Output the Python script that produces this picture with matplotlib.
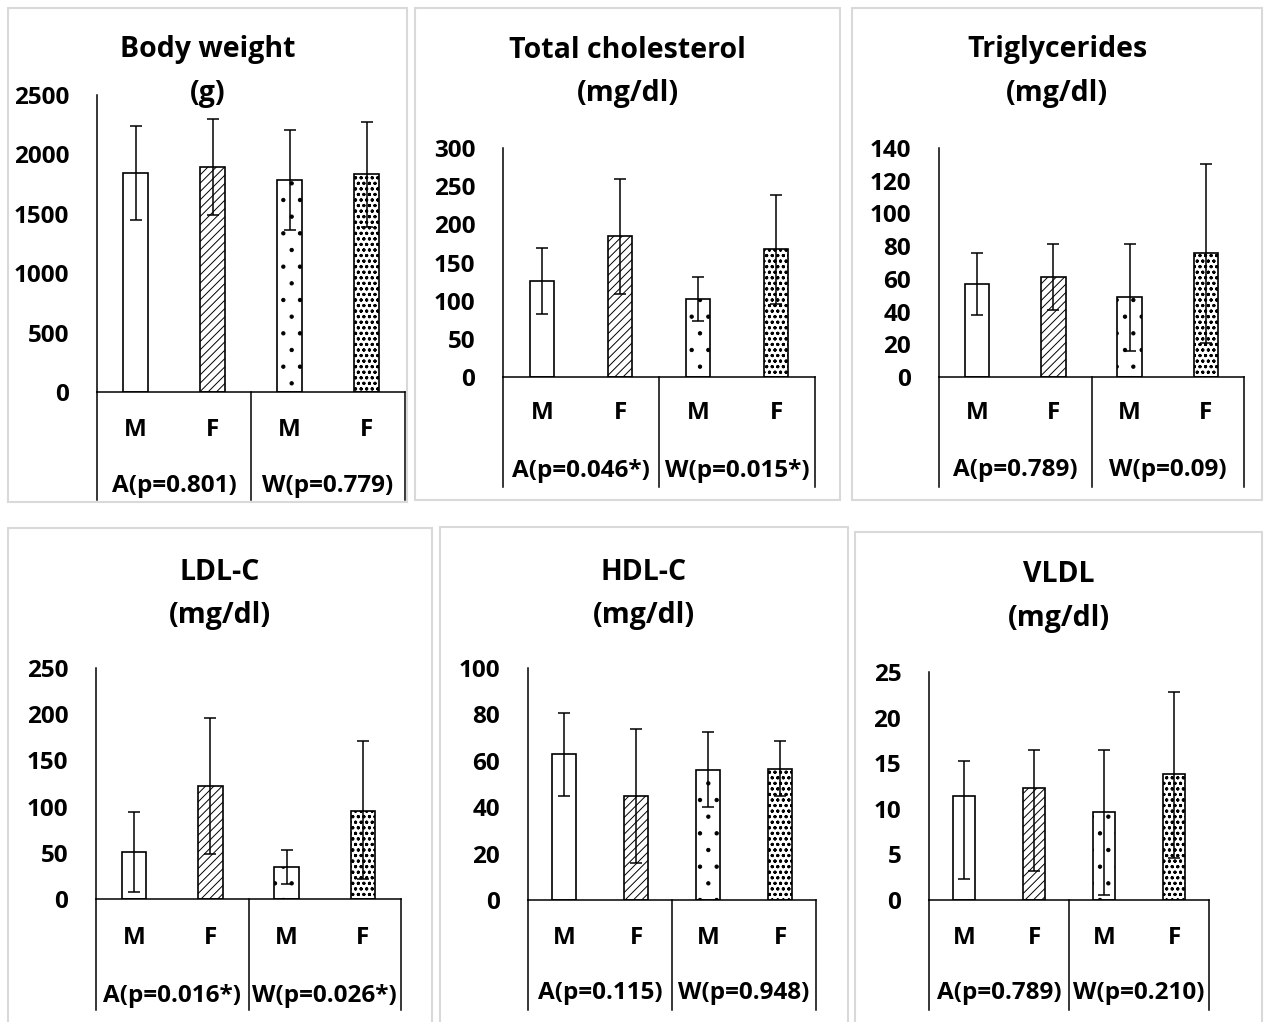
import numpy as np
import matplotlib.pyplot as plt
from matplotlib.patches import Rectangle
from matplotlib.transforms import blended_transform_factory

plt.rcParams['font.family'] = ['Open Sans', 'DejaVu Sans']
plt.rcParams['font.weight'] = 'bold'
plt.rcParams['hatch.linewidth'] = 0.7

W, H = 1266, 1022

sexes = ['M', 'F', 'M', 'F']
hatches = ['', '////', '.', '...ooo']

titles = ['Body weight', 'Total cholesterol', 'Triglycerides', 'LDL-C', 'HDL-C', 'VLDL']
units = ['(g)', '(mg/dl)', '(mg/dl)', '(mg/dl)', '(mg/dl)', '(mg/dl)']
p_a = ['A(p=0.801)', 'A(p=0.046*)', 'A(p=0.789)', 'A(p=0.016*)', 'A(p=0.115)', 'A(p=0.789)']
p_w = ['W(p=0.779)', 'W(p=0.015*)', 'W(p=0.09)', 'W(p=0.026*)', 'W(p=0.948)', 'W(p=0.210)']

# mean, upper end and lower end of the error bar (A-M, A-F, W-M, W-F)
bw_mean = [1845, 1893, 1784, 1837]
bw_hi = [2239, 2298, 2205, 2270]
bw_lo = [1449, 1489, 1363, 1390]

tc_mean = [126, 185, 102, 168]
tc_hi = [169, 260, 131, 239]
tc_lo = [83, 109, 74, 96]

tg_mean = [57, 61.3, 48.9, 75.9]
tg_hi = [75.7, 81.6, 81.6, 130.2]
tg_lo = [38, 40.9, 15.7, 21]

ldl_mean = [50.7, 122.6, 34.9, 95.3]
ldl_hi = [93.9, 195.9, 53.5, 170.8]
ldl_lo = [7.6, 49.2, 16.2, 21.2]

hdl_mean = [62.8, 44.8, 56.2, 56.6]
hdl_hi = [80.5, 73.7, 72.3, 68.4]
hdl_lo = [45, 16.1, 40.1, 45]

vldl_mean = [11.4, 12.3, 9.7, 13.8]
vldl_hi = [15.2, 16.4, 16.4, 22.8]
vldl_lo = [2.3, 3.2, 0.6, 4.65]

y_max = [2500, 300, 140, 250, 100, 25]
y_step = [500, 50, 20, 50, 20, 5]

data = [(bw_mean, bw_hi, bw_lo), (tc_mean, tc_hi, tc_lo), (tg_mean, tg_hi, tg_lo),
        (ldl_mean, ldl_hi, ldl_lo), (hdl_mean, hdl_hi, hdl_lo), (vldl_mean, vldl_hi, vldl_lo)]

# layout in pixels: panel box, plot area (left, top, right, zero line), text rows
boxes = [(8, 8, 407, 502), (415, 8, 840, 500), (852, 8, 1262, 500),
         (8, 528, 432, 1030), (440, 527, 848, 1030), (855, 532, 1262, 1030)]
areas = [(97, 95, 405, 392), (503, 148, 815, 377), (939, 148, 1244, 377),
         (96, 668, 401, 899), (528, 668, 816, 900), (929, 672, 1209, 900)]
sex_y = [430, 413, 413, 938, 938, 938]
grp_y = [486, 471, 470, 996, 993, 993]
line_end = [500, 487, 487, 1010, 1010, 1010]
title_y = [50, 50, 50, 572, 572, 575]

fig = plt.figure(figsize=(W / 100, H / 100), dpi=100)

def fy(y):
    return 1 - y / H

for i in range(6):
    bx0, by0, bx1, by1 = boxes[i]
    fig.add_artist(Rectangle((bx0 / W, fy(by1)), (bx1 - bx0) / W, (by1 - by0) / H,
                             transform=fig.transFigure, fill=False,
                             edgecolor='#d9d9d9', linewidth=1.5, clip_on=False))
    cx = (bx0 + bx1) / 2 / W
    fig.text(cx, fy(title_y[i]), titles[i], ha='center', va='center', fontsize=20.5)
    fig.text(cx, fy(title_y[i] + 43), units[i], ha='center', va='center', fontsize=20.5)

    x0, top, x1, zero = areas[i]
    ax = fig.add_axes([x0 / W, fy(zero), (x1 - x0) / W, (zero - top) / H])
    mean, hi, lo = data[i]
    mean = np.array(mean)
    err = [mean - np.array(lo), np.array(hi) - mean]
    xs = np.arange(4) + 0.5
    ax.bar(xs, mean, width=0.32, color='white', edgecolor='black',
           linewidth=1.2, hatch=hatches, zorder=2)
    ax.errorbar(xs, mean, yerr=err, fmt='none', ecolor='black', elinewidth=1.1,
                capsize=4.5, capthick=1.1, zorder=3)
    ax.set_xlim(0, 4)
    ax.set_ylim(0, y_max[i])
    ax.set_yticks(np.arange(0, y_max[i] + 1, y_step[i]))
    ax.tick_params(axis='y', length=0, pad=20, labelsize=17.5)
    ax.set_xticks([])
    for s in ['top', 'right']:
        ax.spines[s].set_visible(False)
    for s in ['left', 'bottom']:
        ax.spines[s].set_linewidth(1.1)

    tr = blended_transform_factory(ax.transData, fig.transFigure)
    for xv in [0, 2, 4]:
        ax.plot([xv, xv], [fy(zero), fy(line_end[i])], color='black', lw=1.1,
                transform=tr, clip_on=False)
    for xv, s in zip(xs, sexes):
        ax.text(xv, fy(sex_y[i]), s, transform=tr, ha='center', va='center', fontsize=17.5)
    ax.text(1, fy(grp_y[i]), p_a[i], transform=tr, ha='center', va='center', fontsize=17.5)
    ax.text(3, fy(grp_y[i]), p_w[i], transform=tr, ha='center', va='center', fontsize=17.5)

fig.savefig('out.png', dpi=100)
